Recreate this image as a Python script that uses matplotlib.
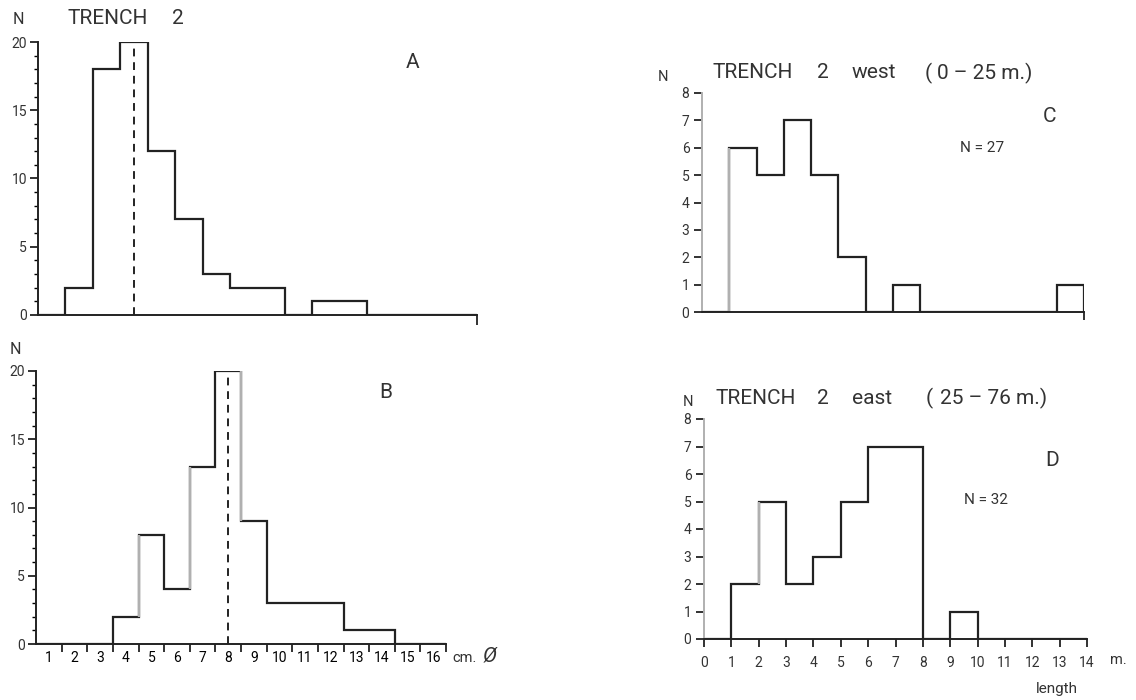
import numpy as np
import matplotlib.pyplot as plt
from matplotlib.ticker import MultipleLocator, FixedLocator, NullFormatter

plt.rcParams['font.family'] = ['Roboto', 'DejaVu Sans']

# diameter classes (cm), counts per class
diam = np.arange(1, 17)
count_a = [0, 2, 18, 20, 12, 7, 3, 2, 2, 0, 1, 1, 0, 0, 0, 0]
count_b = [0, 0, 0, 2, 8, 4, 13, 20, 9, 3, 3, 3, 1, 1, 0, 0]
mean_a = 4.0
mean_b = 8.0

# length classes (m)
length_edges = np.arange(0, 15)
count_c = [0, 6, 5, 7, 5, 2, 0, 1, 0, 0, 0, 0, 0, 1]
count_d = [0, 2, 5, 2, 3, 5, 7, 7, 0, 1, 0, 0, 0, 0]

W, H = 1136, 700
fig = plt.figure(figsize=(W / 100, H / 100), dpi=100)
ink = '#222222'
grey = '#b0b0b0'
tsize = 10


def box(l, r, top, bot):
    return [l / W, 1 - bot / H, (r - l) / W, (bot - top) / H]


def txt(x, y, s, size, **kw):
    fig.text(x / W, 1 - y / H, s, fontsize=size, color='#333333', va='center', **kw)


def base_axes(ax):
    for s in ['top', 'right']:
        ax.spines[s].set_visible(False)
    for s in ['left', 'bottom']:
        ax.spines[s].set_color(ink)
        ax.spines[s].set_linewidth(1.4)
    ax.tick_params(colors=ink, labelcolor='#333333', width=1.3)


edges_cm = np.append(diam - 0.5, diam[-1] + 0.5)

# ---- A
axA = fig.add_axes(box(38, 477, 42, 315))
base_axes(axA)
axA.stairs(count_a, edges_cm, color=ink, lw=1.6, baseline=0)
axA.vlines(mean_a, 0, 20, colors=ink, linestyles=(0, (4, 3)), lw=1.4)
axA.set_xlim(0.5, 16.5)
axA.set_ylim(0, 20)
axA.yaxis.set_major_locator(MultipleLocator(5))
axA.yaxis.set_minor_locator(MultipleLocator(1))
axA.tick_params(axis='y', which='major', length=6, labelsize=tsize, pad=2)
axA.tick_params(axis='y', which='minor', length=3, width=1)
axA.xaxis.set_major_locator(FixedLocator([16.5]))
axA.xaxis.set_major_formatter(NullFormatter())
axA.tick_params(axis='x', length=7)

# ---- B
axB = fig.add_axes(box(36, 446, 371, 644))
base_axes(axB)
axB.stairs(count_b, edges_cm, color=ink, lw=1.6, baseline=0)
for x, y0, y1 in [(4.5, 2, 8), (6.5, 4, 13), (8.5, 9, 20)]:
    axB.vlines(x, y0, y1, colors=grey, lw=1.7)
axB.vlines(mean_b, 0, 20, colors=ink, linestyles=(0, (4, 3)), lw=1.4)
axB.set_xlim(0.5, 16.5)
axB.set_ylim(0, 20)
axB.yaxis.set_major_locator(MultipleLocator(5))
axB.yaxis.set_minor_locator(MultipleLocator(1))
axB.tick_params(axis='y', which='major', length=6, labelsize=tsize, pad=2)
axB.tick_params(axis='y', which='minor', length=3, width=1)
axB.xaxis.set_major_locator(FixedLocator(edges_cm[1:]))
axB.xaxis.set_major_formatter(NullFormatter())
axB.xaxis.set_minor_locator(FixedLocator(diam))
axB.set_xticklabels([str(d) for d in diam], minor=True)
axB.tick_params(axis='x', which='major', length=6)
axB.tick_params(axis='x', which='minor', length=0, labelsize=tsize, pad=5)

# ---- C
axC = fig.add_axes(box(702, 1084, 93, 312))
base_axes(axC)
axC.spines['left'].set_color(grey)
axC.stairs(count_c, length_edges, color=ink, lw=1.6, baseline=0)
axC.vlines(1, 0, 6, colors=grey, lw=1.7)
axC.set_xlim(0, 14)
axC.set_ylim(0, 8)
axC.yaxis.set_major_locator(MultipleLocator(1))
axC.tick_params(axis='y', length=6, labelsize=tsize, pad=3)
axC.xaxis.set_major_locator(FixedLocator([14]))
axC.xaxis.set_major_formatter(NullFormatter())
axC.tick_params(axis='x', length=6)

# ---- D
axD = fig.add_axes(box(704, 1087, 419, 639))
base_axes(axD)
axD.spines['left'].set_color(grey)
axD.stairs(count_d, length_edges, color=ink, lw=1.6, baseline=0)
axD.vlines(2, 2, 5, colors=grey, lw=1.7)
axD.set_xlim(0, 14)
axD.set_ylim(0, 8)
axD.yaxis.set_major_locator(MultipleLocator(1))
axD.xaxis.set_major_locator(MultipleLocator(1))
axD.tick_params(axis='y', length=6, labelsize=tsize, pad=3)
axD.tick_params(axis='x', length=6, labelsize=tsize, pad=6)

# ---- texts
big = 15
txt(18, 19, 'N', 11.5, ha='center')
txt(68, 18, 'TRENCH', big, ha='left')
txt(172, 18, '2', big, ha='left')
txt(413, 63, 'A', big, ha='center')
txt(15, 350, 'N', 11.5, ha='center')
txt(386, 392, 'B', big, ha='center')
txt(452, 658, 'cm.', 10.5, ha='left')
txt(490, 656, 'Ø', 15, ha='center', style='italic')

txt(663, 77, 'N', 10.5, ha='center')
txt(712, 73, 'TRENCH', big, ha='left')
txt(817, 73, '2', big, ha='left')
txt(852, 73, 'west', big, ha='left')
txt(925, 73, '(', big, ha='left')
txt(937, 73, '0 – 25 m.)', big, ha='left')
txt(1049, 116, 'C', big, ha='center')
txt(982, 148, 'N = 27', 11, ha='center')

txt(688, 402, 'N', 10.5, ha='center')
txt(716, 398, 'TRENCH', big, ha='left')
txt(817, 398, '2', big, ha='left')
txt(852, 398, 'east', big, ha='left')
txt(926, 398, '(', big, ha='left')
txt(940, 398, '25 – 76 m.)', big, ha='left')
txt(1052, 460, 'D', big, ha='center')
txt(986, 500, 'N = 32', 11, ha='center')
txt(1118, 660, 'm.', 10.5, ha='center')
txt(1057, 689, 'length', 11, ha='center')

fig.savefig('out.png', dpi=100, facecolor='white')
